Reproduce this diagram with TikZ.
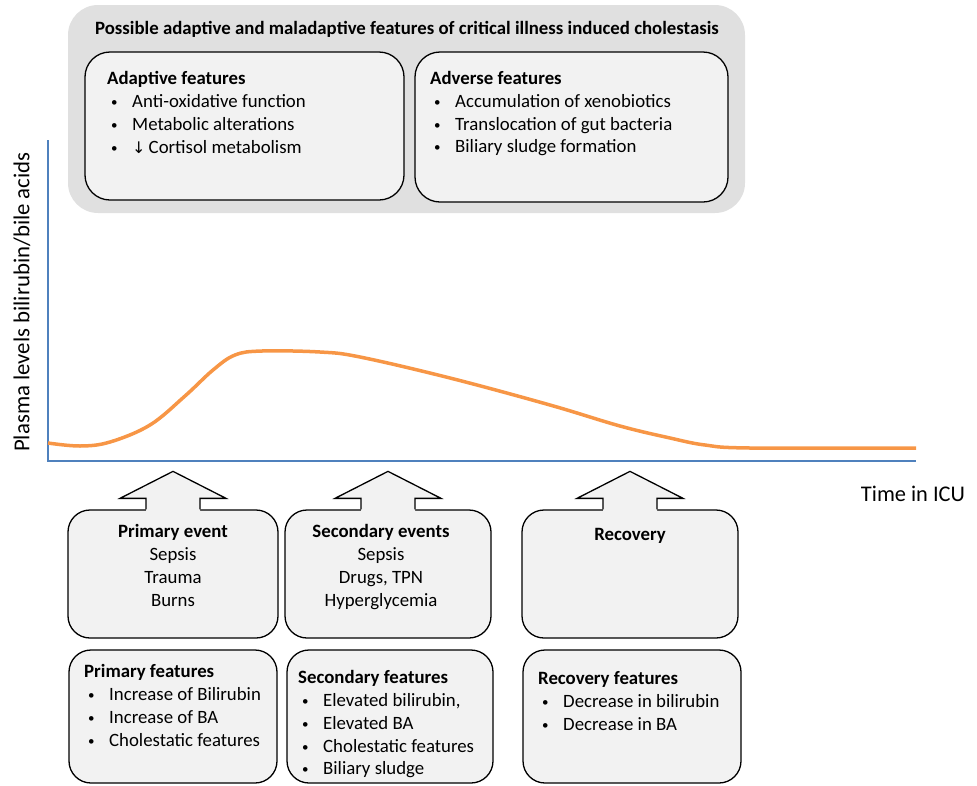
\documentclass[tikz,border=0pt]{standalone}
\usepackage{fontspec}
\setmainfont{Carlito}
\newfontfamily\arrowfont{DejaVu Sans}
\usetikzlibrary{positioning}

\definecolor{curveorange}{RGB}{247,150,70}
\definecolor{axisblue}{RGB}{79,129,189}
\definecolor{panelgray}{RGB}{224,224,224}
\definecolor{boxgray}{RGB}{242,242,242}

\newcommand{\itm}[1]{\makebox[25pt][l]{\hspace{4pt}\raisebox{1pt}{\fontsize{13}{13}\selectfont\textbullet}}#1}
% block arrow sitting on top of an event box
\newcommand{\evarrow}[1]{%
  \fill[boxgray] ([xshift=-27pt,yshift=-2pt]#1.north) -- ([xshift=-27pt,yshift=11pt]#1.north)
    -- ([xshift=-53pt,yshift=11pt]#1.north) -- ([yshift=38pt]#1.north)
    -- ([xshift=53pt,yshift=11pt]#1.north) -- ([xshift=27pt,yshift=11pt]#1.north)
    -- ([xshift=27pt,yshift=-2pt]#1.north) -- cycle;
  \draw[line width=1.3pt] ([xshift=-27pt]#1.north) -- ([xshift=-27pt,yshift=11pt]#1.north)
    -- ([xshift=-53pt,yshift=11pt]#1.north) -- ([yshift=38pt]#1.north)
    -- ([xshift=53pt,yshift=11pt]#1.north) -- ([xshift=27pt,yshift=11pt]#1.north)
    -- ([xshift=27pt]#1.north);}

\begin{document}
\begin{tikzpicture}[x=1pt, y=-1pt,
    box/.style={draw, line width=1.3pt, fill=boxgray, rounded corners=22pt, inner sep=0pt},
    lst/.style={inner sep=0pt, font=\fontsize{18.8}{22.7}\selectfont, anchor=north west, align=left},
    ctr/.style={inner sep=0pt, font=\fontsize{18.8}{22.7}\selectfont, anchor=north, align=center}]
  \useasboundingbox (0,0) rectangle (977,785);

  % adaptive / maladaptive panel
  \node[fill=panelgray, rounded corners=30pt, minimum width=677pt, minimum height=208pt] (panel) at (406.5,109) {};
  \node[inner sep=0pt, font=\fontsize{18.8}{22}\selectfont\bfseries] (title) at (407,29)
    {Possible adaptive and maladaptive features of critical illness induced cholestasis};
  \node[box, rounded corners=25pt, minimum width=319pt, minimum height=148pt] (adapt) at (244.5,126) {};
  \node[box, rounded corners=25pt, minimum width=313pt, minimum height=150pt] (adverse) at (571.5,127) {};
  \node[lst] (adaptlist) at (107,71.5) {\textbf{Adaptive features}\\
    \itm{Anti-oxidative function}\\ \itm{Metabolic alterations}\\ \itm{{\arrowfont\fontsize{16}{16}\selectfont ↓}\,Cortisol metabolism}};
  \node[lst] (adverselist) at (430,71.5) {\textbf{Adverse features}\\
    \itm{Accumulation of xenobiotics}\\ \itm{Translocation of gut bacteria}\\ \itm{Biliary sludge formation}};

  % axes and curve
  \draw[axisblue, line width=1.5pt] (48,140) -- (48,461) -- (916,461);
  \node[inner sep=0pt, font=\fontsize{22.8}{26}\selectfont, rotate=90] (ylab) at (22,302) {Plasma levels bilirubin/bile acids};
  \node[inner sep=0pt, font=\fontsize{22.4}{26}\selectfont] (xlab) at (913,494) {Time in ICU};
  \draw[curveorange, line width=3.5pt] plot[smooth, tension=0.6] coordinates {(48,443) (80,446) (110,442) (150,425) (185,396)
    (213,370) (235,355) (262,351) (320,352) (360,357) (450,378) (550,405) (620,426) (670,438) (705,445) (750,448) (916,448)};

  % events
  \node[box, minimum width=210pt, minimum height=128pt] (pev) at (173,574) {};
  \node[box, minimum width=206pt, minimum height=128pt] (sev) at (388,574) {};
  \node[box, minimum width=216pt, minimum height=128pt] (rev) at (630,574) {};
  \evarrow{pev}\evarrow{sev}\evarrow{rev}
  \node[ctr] (pevtxt) at (173,524.5) {\textbf{Primary event}\\ Sepsis\\ Trauma\\ Burns};
  \node[ctr] (sevtxt) at (381,524.5) {\textbf{Secondary events}\\ Sepsis\\ Drugs, TPN\\ Hyperglycemia};
  \node[ctr] (revtxt) at (630,528.5) {\textbf{Recovery}};

  % features
  \node[box, minimum width=208pt, minimum height=133pt] (pfeat) at (173,716.5) {};
  \node[box, minimum width=206pt, minimum height=133pt] (sfeat) at (390,716.5) {};
  \node[box, minimum width=218pt, minimum height=133pt] (rfeat) at (632,716.5) {};
  \node[lst] (pfeattxt) at (84,664.5) {\textbf{Primary features}\\
    \itm{Increase of Bilirubin}\\ \itm{Increase of BA}\\ \itm{Cholestatic features}};
  \node[lst] (sfeattxt) at (298,670.5) {\textbf{Secondary features}\\
    \itm{Elevated bilirubin,}\\ \itm{Elevated BA}\\ \itm{Cholestatic features}\\ \itm{Biliary sludge}};
  \node[lst] (rfeattxt) at (538,671.5) {\textbf{Recovery features}\\
    \itm{Decrease in bilirubin}\\ \itm{Decrease in BA}};
\end{tikzpicture}
\end{document}
